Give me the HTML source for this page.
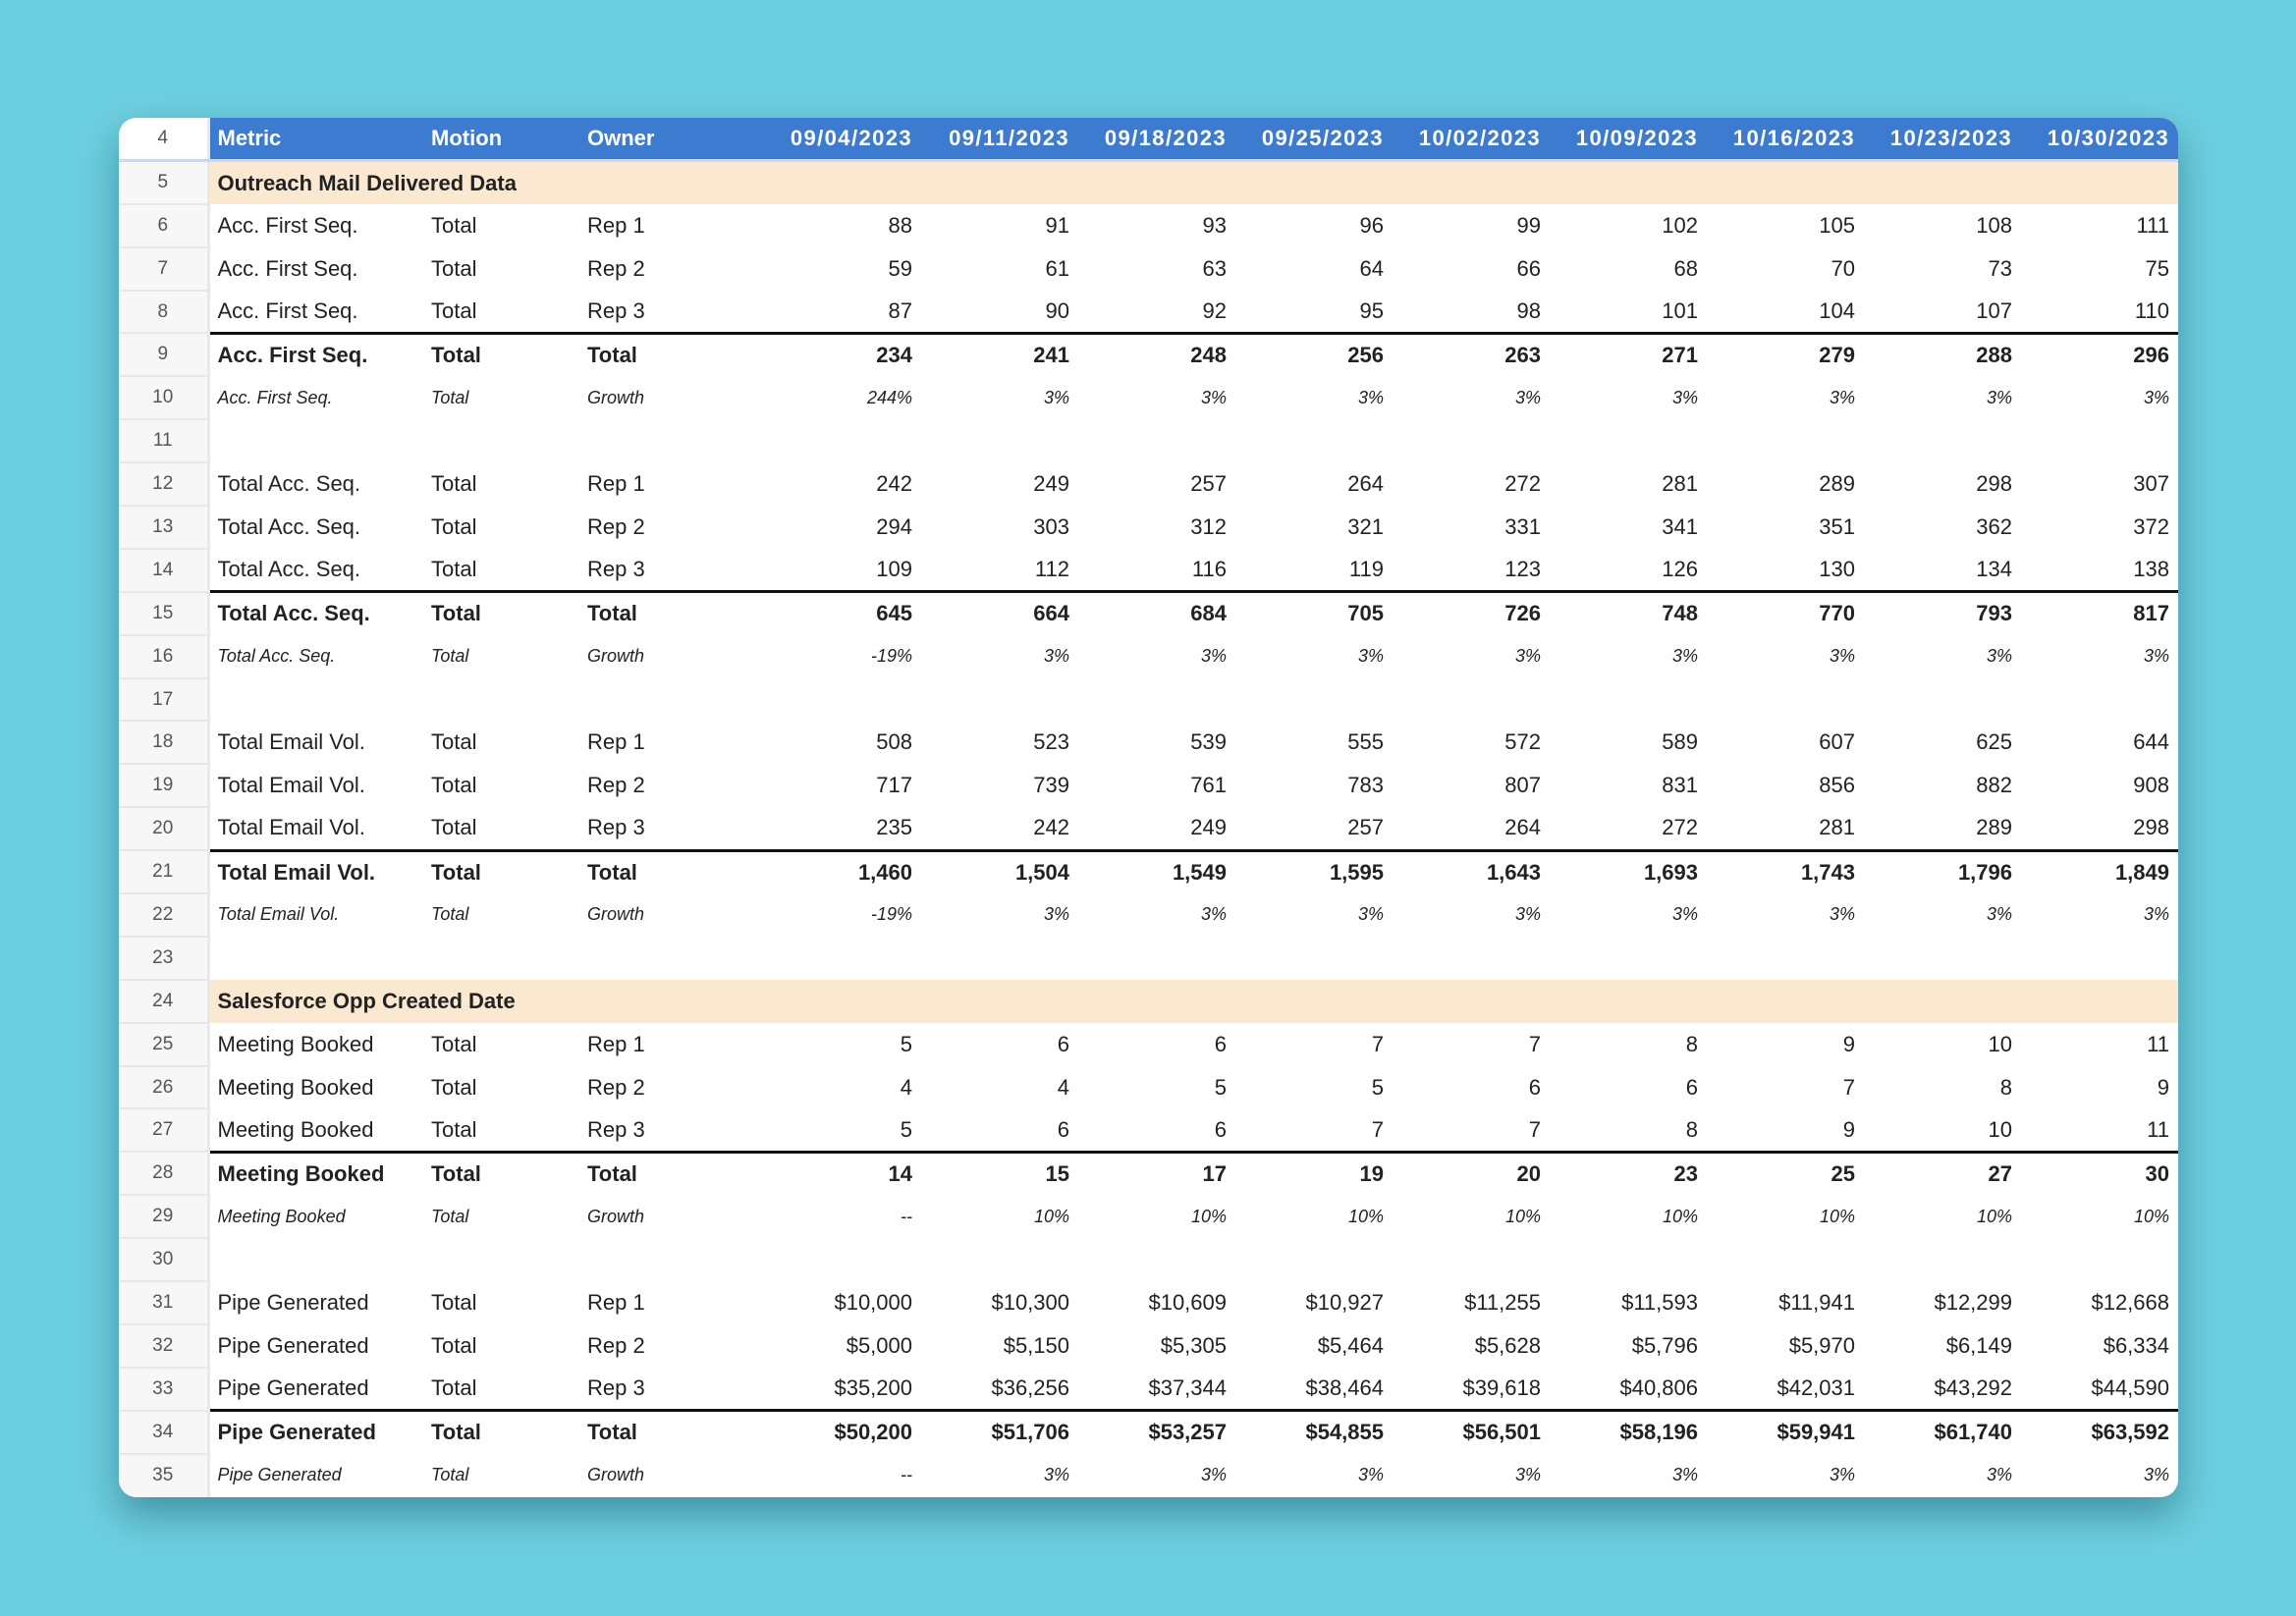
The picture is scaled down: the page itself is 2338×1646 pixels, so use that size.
<!DOCTYPE html>
<html><head><meta charset="utf-8"><style>
html,body{margin:0;padding:0;}
body{width:2338px;height:1646px;background:#6ccfdf;position:relative;overflow:hidden;font-family:"Liberation Sans",Arial,sans-serif;color:#222;}
.card{position:absolute;left:121px;top:120px;width:2097px;height:1405px;background:#fff;border-radius:18px;overflow:hidden;box-shadow:0 18px 40px rgba(20,70,90,.45);}
table{border-collapse:collapse;table-layout:fixed;width:2097px;}
td{height:43.9px;padding:0;font-size:22px;white-space:nowrap;overflow:hidden;vertical-align:middle;box-sizing:border-box;}
td.g{background:#f7f7f7;color:#555;text-align:center;font-size:19px !important;border-bottom:2px solid #e8e8e8;border-right:3px solid #e8e8e8;font-weight:normal !important;font-style:normal !important;}
td.l{padding-left:8px;}
td.n{text-align:right;padding-right:1px;}
td.z{padding-right:10px !important;}
tr.h td{background:#3d7bd0;color:#fff;font-weight:bold;font-size:22px;border-bottom:3px solid #cdd9ea;}
tr.h td.n{font-size:22px;letter-spacing:1.4px;}
tr.h td.g{background:#fff;color:#555;}
tr.s td{background:#fae8d0;font-weight:bold;}
tr.s td.g{background:#f7f7f7;}
tr.t td{font-weight:bold;border-top:3px solid #111;}
tr.t td.g{border-top:none;}
tr.gr td{font-style:italic;font-size:18px;}
</style></head><body>
<div class="card"><table>
<colgroup><col style="width:91px"><col style="width:219px"><col style="width:159px"><col style="width:180px">
<col style="width:160px"><col style="width:160px"><col style="width:160px"><col style="width:160px"><col style="width:160px"><col style="width:160px"><col style="width:160px"><col style="width:160px"><col style="width:169px"></colgroup>
<tr class="h"><td class="g">4</td><td class="l">Metric</td><td class="l">Motion</td><td class="l">Owner</td><td class="n">09/04/2023</td><td class="n">09/11/2023</td><td class="n">09/18/2023</td><td class="n">09/25/2023</td><td class="n">10/02/2023</td><td class="n">10/09/2023</td><td class="n">10/16/2023</td><td class="n">10/23/2023</td><td class="n z">10/30/2023</td></tr>
<tr class="s"><td class="g">5</td><td class="l" colspan="12">Outreach Mail Delivered Data</td></tr>
<tr><td class="g">6</td><td class="l">Acc. First Seq.</td><td class="l">Total</td><td class="l">Rep 1</td><td class="n">88</td><td class="n">91</td><td class="n">93</td><td class="n">96</td><td class="n">99</td><td class="n">102</td><td class="n">105</td><td class="n">108</td><td class="n z">111</td></tr>
<tr><td class="g">7</td><td class="l">Acc. First Seq.</td><td class="l">Total</td><td class="l">Rep 2</td><td class="n">59</td><td class="n">61</td><td class="n">63</td><td class="n">64</td><td class="n">66</td><td class="n">68</td><td class="n">70</td><td class="n">73</td><td class="n z">75</td></tr>
<tr><td class="g">8</td><td class="l">Acc. First Seq.</td><td class="l">Total</td><td class="l">Rep 3</td><td class="n">87</td><td class="n">90</td><td class="n">92</td><td class="n">95</td><td class="n">98</td><td class="n">101</td><td class="n">104</td><td class="n">107</td><td class="n z">110</td></tr>
<tr class="t"><td class="g">9</td><td class="l">Acc. First Seq.</td><td class="l">Total</td><td class="l">Total</td><td class="n">234</td><td class="n">241</td><td class="n">248</td><td class="n">256</td><td class="n">263</td><td class="n">271</td><td class="n">279</td><td class="n">288</td><td class="n z">296</td></tr>
<tr class="gr"><td class="g">10</td><td class="l">Acc. First Seq.</td><td class="l">Total</td><td class="l">Growth</td><td class="n">244%</td><td class="n">3%</td><td class="n">3%</td><td class="n">3%</td><td class="n">3%</td><td class="n">3%</td><td class="n">3%</td><td class="n">3%</td><td class="n z">3%</td></tr>
<tr><td class="g">11</td><td colspan="12"></td></tr>
<tr><td class="g">12</td><td class="l">Total Acc. Seq.</td><td class="l">Total</td><td class="l">Rep 1</td><td class="n">242</td><td class="n">249</td><td class="n">257</td><td class="n">264</td><td class="n">272</td><td class="n">281</td><td class="n">289</td><td class="n">298</td><td class="n z">307</td></tr>
<tr><td class="g">13</td><td class="l">Total Acc. Seq.</td><td class="l">Total</td><td class="l">Rep 2</td><td class="n">294</td><td class="n">303</td><td class="n">312</td><td class="n">321</td><td class="n">331</td><td class="n">341</td><td class="n">351</td><td class="n">362</td><td class="n z">372</td></tr>
<tr><td class="g">14</td><td class="l">Total Acc. Seq.</td><td class="l">Total</td><td class="l">Rep 3</td><td class="n">109</td><td class="n">112</td><td class="n">116</td><td class="n">119</td><td class="n">123</td><td class="n">126</td><td class="n">130</td><td class="n">134</td><td class="n z">138</td></tr>
<tr class="t"><td class="g">15</td><td class="l">Total Acc. Seq.</td><td class="l">Total</td><td class="l">Total</td><td class="n">645</td><td class="n">664</td><td class="n">684</td><td class="n">705</td><td class="n">726</td><td class="n">748</td><td class="n">770</td><td class="n">793</td><td class="n z">817</td></tr>
<tr class="gr"><td class="g">16</td><td class="l">Total Acc. Seq.</td><td class="l">Total</td><td class="l">Growth</td><td class="n">-19%</td><td class="n">3%</td><td class="n">3%</td><td class="n">3%</td><td class="n">3%</td><td class="n">3%</td><td class="n">3%</td><td class="n">3%</td><td class="n z">3%</td></tr>
<tr><td class="g">17</td><td colspan="12"></td></tr>
<tr><td class="g">18</td><td class="l">Total Email Vol.</td><td class="l">Total</td><td class="l">Rep 1</td><td class="n">508</td><td class="n">523</td><td class="n">539</td><td class="n">555</td><td class="n">572</td><td class="n">589</td><td class="n">607</td><td class="n">625</td><td class="n z">644</td></tr>
<tr><td class="g">19</td><td class="l">Total Email Vol.</td><td class="l">Total</td><td class="l">Rep 2</td><td class="n">717</td><td class="n">739</td><td class="n">761</td><td class="n">783</td><td class="n">807</td><td class="n">831</td><td class="n">856</td><td class="n">882</td><td class="n z">908</td></tr>
<tr><td class="g">20</td><td class="l">Total Email Vol.</td><td class="l">Total</td><td class="l">Rep 3</td><td class="n">235</td><td class="n">242</td><td class="n">249</td><td class="n">257</td><td class="n">264</td><td class="n">272</td><td class="n">281</td><td class="n">289</td><td class="n z">298</td></tr>
<tr class="t"><td class="g">21</td><td class="l">Total Email Vol.</td><td class="l">Total</td><td class="l">Total</td><td class="n">1,460</td><td class="n">1,504</td><td class="n">1,549</td><td class="n">1,595</td><td class="n">1,643</td><td class="n">1,693</td><td class="n">1,743</td><td class="n">1,796</td><td class="n z">1,849</td></tr>
<tr class="gr"><td class="g">22</td><td class="l">Total Email Vol.</td><td class="l">Total</td><td class="l">Growth</td><td class="n">-19%</td><td class="n">3%</td><td class="n">3%</td><td class="n">3%</td><td class="n">3%</td><td class="n">3%</td><td class="n">3%</td><td class="n">3%</td><td class="n z">3%</td></tr>
<tr><td class="g">23</td><td colspan="12"></td></tr>
<tr class="s"><td class="g">24</td><td class="l" colspan="12">Salesforce Opp Created Date</td></tr>
<tr><td class="g">25</td><td class="l">Meeting Booked</td><td class="l">Total</td><td class="l">Rep 1</td><td class="n">5</td><td class="n">6</td><td class="n">6</td><td class="n">7</td><td class="n">7</td><td class="n">8</td><td class="n">9</td><td class="n">10</td><td class="n z">11</td></tr>
<tr><td class="g">26</td><td class="l">Meeting Booked</td><td class="l">Total</td><td class="l">Rep 2</td><td class="n">4</td><td class="n">4</td><td class="n">5</td><td class="n">5</td><td class="n">6</td><td class="n">6</td><td class="n">7</td><td class="n">8</td><td class="n z">9</td></tr>
<tr><td class="g">27</td><td class="l">Meeting Booked</td><td class="l">Total</td><td class="l">Rep 3</td><td class="n">5</td><td class="n">6</td><td class="n">6</td><td class="n">7</td><td class="n">7</td><td class="n">8</td><td class="n">9</td><td class="n">10</td><td class="n z">11</td></tr>
<tr class="t"><td class="g">28</td><td class="l">Meeting Booked</td><td class="l">Total</td><td class="l">Total</td><td class="n">14</td><td class="n">15</td><td class="n">17</td><td class="n">19</td><td class="n">20</td><td class="n">23</td><td class="n">25</td><td class="n">27</td><td class="n z">30</td></tr>
<tr class="gr"><td class="g">29</td><td class="l">Meeting Booked</td><td class="l">Total</td><td class="l">Growth</td><td class="n">--</td><td class="n">10%</td><td class="n">10%</td><td class="n">10%</td><td class="n">10%</td><td class="n">10%</td><td class="n">10%</td><td class="n">10%</td><td class="n z">10%</td></tr>
<tr><td class="g">30</td><td colspan="12"></td></tr>
<tr><td class="g">31</td><td class="l">Pipe Generated</td><td class="l">Total</td><td class="l">Rep 1</td><td class="n">$10,000</td><td class="n">$10,300</td><td class="n">$10,609</td><td class="n">$10,927</td><td class="n">$11,255</td><td class="n">$11,593</td><td class="n">$11,941</td><td class="n">$12,299</td><td class="n z">$12,668</td></tr>
<tr><td class="g">32</td><td class="l">Pipe Generated</td><td class="l">Total</td><td class="l">Rep 2</td><td class="n">$5,000</td><td class="n">$5,150</td><td class="n">$5,305</td><td class="n">$5,464</td><td class="n">$5,628</td><td class="n">$5,796</td><td class="n">$5,970</td><td class="n">$6,149</td><td class="n z">$6,334</td></tr>
<tr><td class="g">33</td><td class="l">Pipe Generated</td><td class="l">Total</td><td class="l">Rep 3</td><td class="n">$35,200</td><td class="n">$36,256</td><td class="n">$37,344</td><td class="n">$38,464</td><td class="n">$39,618</td><td class="n">$40,806</td><td class="n">$42,031</td><td class="n">$43,292</td><td class="n z">$44,590</td></tr>
<tr class="t"><td class="g">34</td><td class="l">Pipe Generated</td><td class="l">Total</td><td class="l">Total</td><td class="n">$50,200</td><td class="n">$51,706</td><td class="n">$53,257</td><td class="n">$54,855</td><td class="n">$56,501</td><td class="n">$58,196</td><td class="n">$59,941</td><td class="n">$61,740</td><td class="n z">$63,592</td></tr>
<tr class="gr"><td class="g" style="border-bottom:none">35</td><td class="l">Pipe Generated</td><td class="l">Total</td><td class="l">Growth</td><td class="n">--</td><td class="n">3%</td><td class="n">3%</td><td class="n">3%</td><td class="n">3%</td><td class="n">3%</td><td class="n">3%</td><td class="n">3%</td><td class="n z">3%</td></tr>
</table></div>
</body></html>
